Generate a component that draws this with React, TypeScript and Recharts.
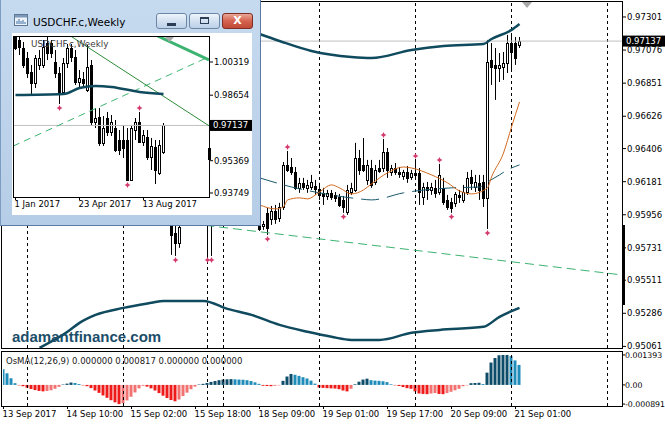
import React from "react";
import {
  ComposedChart,
  Bar,
  Line,
  Scatter,
  XAxis,
  YAxis,
  ReferenceLine,
  Cell,
} from "recharts";

const FONT = "'DejaVu Sans', Verdana, sans-serif";

// ---------- USDCHF.c H1 (main window) ----------
const priceTicks = [0.97301, 0.97076, 0.96851, 0.96626, 0.96406, 0.96181, 0.95956, 0.95731, 0.95511, 0.95286, 0.95061];
const lastPrice = 0.97137;
const timeLabels = ["13 Sep 2017", "14 Sep 10:00", "15 Sep 02:00", "15 Sep 18:00", "18 Sep 09:00", "19 Sep 01:00", "19 Sep 17:00", "20 Sep 09:00", "21 Sep 01:00"];
const timeLabelBars = [0, 16, 32, 48, 64, 80, 96, 112, 128];
const daySeparators = [6, 30, 51, 55, 79, 103, 127, 151];

// [bar, open, high, low, close]
const candles = [
  [42, 0.95955, 0.96023, 0.95683, 0.95819],
  [43, 0.95833, 0.95907, 0.95676, 0.95765],
  [44, 0.95765, 0.95975, 0.95731, 0.95873],
  [51, 0.95975, 0.96023, 0.95676, 0.95935],
  [52, 0.95935, 0.95989, 0.95676, 0.95989],
  [64, 0.95907, 0.95935, 0.95846, 0.95859],
  [65, 0.9588, 0.95914, 0.95853, 0.95894],
  [66, 0.95969, 0.96003, 0.95819, 0.95866],
  [67, 0.95928, 0.96016, 0.95887, 0.95982],
  [68, 0.95982, 0.96023, 0.95894, 0.95928],
  [69, 0.95935, 0.96037, 0.95907, 0.96009],
  [70, 0.96009, 0.96315, 0.95989, 0.96295],
  [71, 0.96295, 0.9639, 0.96247, 0.96261],
  [72, 0.96281, 0.96342, 0.96227, 0.96247],
  [73, 0.96247, 0.96281, 0.96125, 0.96139],
  [74, 0.96139, 0.96207, 0.96105, 0.96173],
  [75, 0.96173, 0.96207, 0.96125, 0.96145],
  [76, 0.96139, 0.96193, 0.96105, 0.96159],
  [77, 0.96145, 0.96227, 0.96125, 0.96179],
  [78, 0.96152, 0.96193, 0.96091, 0.96132],
  [79, 0.96132, 0.96173, 0.96057, 0.96091],
  [80, 0.96105, 0.96139, 0.96023, 0.96084],
  [81, 0.96084, 0.96125, 0.96057, 0.96105],
  [82, 0.96105, 0.96125, 0.96057, 0.96077],
  [83, 0.96091, 0.96111, 0.96043, 0.96071],
  [84, 0.96077, 0.96098, 0.96009, 0.96023],
  [85, 0.96057, 0.96084, 0.95969, 0.96009],
  [86, 0.95975, 0.96159, 0.95955, 0.96125],
  [87, 0.96111, 0.96173, 0.96091, 0.96139],
  [88, 0.96125, 0.96445, 0.96111, 0.96342],
  [89, 0.96342, 0.96397, 0.96227, 0.96261],
  [90, 0.96295, 0.96478, 0.96247, 0.96261],
  [91, 0.96193, 0.96329, 0.96159, 0.96295],
  [92, 0.96274, 0.96329, 0.96139, 0.96159],
  [93, 0.96179, 0.96295, 0.96159, 0.96261],
  [94, 0.96274, 0.96329, 0.96241, 0.96254],
  [95, 0.96274, 0.96472, 0.96247, 0.96383],
  [96, 0.96383, 0.9641, 0.96207, 0.96261],
  [97, 0.96247, 0.96295, 0.9622, 0.96274],
  [98, 0.96274, 0.96308, 0.96227, 0.96247],
  [99, 0.96247, 0.96281, 0.96207, 0.96234],
  [100, 0.9622, 0.96261, 0.96193, 0.96247],
  [101, 0.96247, 0.96288, 0.96173, 0.96207],
  [102, 0.96213, 0.96261, 0.96193, 0.96241],
  [103, 0.96241, 0.96329, 0.96213, 0.96227],
  [104, 0.96241, 0.96274, 0.96023, 0.96111],
  [105, 0.96077, 0.96173, 0.96023, 0.96145],
  [106, 0.96145, 0.96179, 0.96057, 0.96125],
  [107, 0.96125, 0.96173, 0.96091, 0.96145],
  [108, 0.96139, 0.96193, 0.96071, 0.96105],
  [109, 0.96111, 0.96302, 0.96091, 0.96227],
  [110, 0.96139, 0.96207, 0.96023, 0.96043],
  [111, 0.96057, 0.96091, 0.95989, 0.96009],
  [112, 0.96043, 0.96071, 0.95969, 0.96003],
  [113, 0.96037, 0.96111, 0.96009, 0.96098],
  [114, 0.96091, 0.96125, 0.96037, 0.96077],
  [115, 0.96057, 0.96159, 0.96037, 0.96111],
  [116, 0.96111, 0.96247, 0.96091, 0.96207],
  [117, 0.96213, 0.96261, 0.96125, 0.96173],
  [118, 0.96145, 0.96227, 0.96111, 0.96179],
  [119, 0.96173, 0.96227, 0.96057, 0.96125],
  [120, 0.96179, 0.96227, 0.96009, 0.96071],
  [121, 0.96071, 0.97145, 0.95859, 0.96995],
  [122, 0.97009, 0.97124, 0.96839, 0.96961],
  [123, 0.96975, 0.9709, 0.96737, 0.96954],
  [124, 0.96954, 0.97056, 0.96859, 0.96975],
  [125, 0.96961, 0.97063, 0.96873, 0.96988],
  [126, 0.96988, 0.97179, 0.9692, 0.97124],
  [127, 0.97124, 0.97192, 0.96941, 0.97063],
  [128, 0.97124, 0.97165, 0.96975, 0.97022],
  [129, 0.97111, 0.97165, 0.9709, 0.97137],
];

// [bar, value] readings of the indicator lines
const upperBand = [[64, 0.97185], [69, 0.97138], [77, 0.9707], [87, 0.97029], [92, 0.97022], [102, 0.97077], [110, 0.97104], [120, 0.97117], [122, 0.97151], [127, 0.97213], [129, 0.97253]];
const middleBand = [[64, 0.96207], [72, 0.96145], [79, 0.96105], [89, 0.96064], [92, 0.96057], [100, 0.96105], [112, 0.96139], [119, 0.96145], [121, 0.96179], [124, 0.96227], [126, 0.96261], [129, 0.96295]];
const lowerBand = [[9, 0.95051], [16, 0.9516], [19, 0.95221], [23, 0.95275], [30, 0.95323], [37, 0.95357], [40, 0.9537], [50, 0.9537], [56, 0.95316], [62, 0.95275], [69, 0.95207], [76, 0.9516], [82, 0.95126], [87, 0.95105], [94, 0.95105], [102, 0.95153], [109, 0.95173], [120, 0.95194], [124, 0.95262], [129, 0.95323]];
const maFast = [[64, 0.96023], [68, 0.95996], [70, 0.96009], [71, 0.96057], [74, 0.96071], [76, 0.96064], [79, 0.96111], [82, 0.96159], [84, 0.96139], [87, 0.96098], [90, 0.96125], [92, 0.96166], [96, 0.96241], [100, 0.96281], [102, 0.96274], [107, 0.96227], [111, 0.96173], [114, 0.96118], [117, 0.96098], [121, 0.96139], [122, 0.96213], [125, 0.96376], [127, 0.96553], [129, 0.96723]];
const trendLine = [[40, 0.95918], [154.6, 0.95547]];
const fractalUp = [71, 95, 103, 109];
const fractalDown = [43, 51, 52, 66, 85, 112, 121];

const osma = [
  0.00073, 0.00054, 0.00031, 0.00008, -0.00002, -0.00006, -0.00013, -0.00019, -0.00024, -0.00028,
  -0.0003, -0.00028, -0.00025, -0.00018, -0.00009, 0.00002, 0.00006, 0.00011, 0.00009, 0.00004,
  -0.00002, -0.00006, -0.00015, -0.00026, -0.00037, -0.00049, -0.0006, -0.00071, -0.00081, -0.000891,
  -0.00085, -0.00072, -0.00055, -0.00035, -0.00016, -0.00004, -0.00008, -0.00016, -0.00026, -0.00038,
  -0.0005, -0.00061, -0.0007, -0.00076, -0.00068, -0.00052, -0.00036, -0.0002, -0.00008, 0.00002,
  0.00005, 0.00009, 0.00014, 0.00018, 0.00022, 0.00025, 0.00026, 0.00027, 0.00026, 0.00025,
  0.00024, 0.00022, 0.00018, 0.00012, 0.00005, -0.00004, -0.00005, -0.00006, -0.00004, -0.00002,
  0.00019, 0.00039, 0.00051, 0.00047, 0.00042, 0.00036, 0.0003, 0.0002, 0.00006, -0.00012,
  -0.00014, -0.00015, -0.00016, -0.00017, -0.0002, -0.00026, -0.0003, -0.00018, 0.00003, 0.00015,
  0.00025, 0.00029, 0.00022, 0.0002, 0.00019, 0.00017, 0.00013, 0.00003, -0.00002, -0.00005,
  -0.0001, -0.00015, -0.00018, -0.0003, -0.0004, -0.00042, -0.00043, -0.0004, -0.00038, -0.00042,
  -0.00043, -0.00038, -0.00032, -0.00025, -0.00018, -0.00006, -0.00002, 0.00008, 0.00009, 0.0001,
  0.00004, 0.00057, 0.00104, 0.00125, 0.00138, 0.00139, 0.001393, 0.00134, 0.00114, 0.00093,
];
const osmaTicks = [0.001393, 0, -0.000891];

// ---------- USDCHF.c Weekly (inset window) ----------
const insetTicks = [1.00319, 0.98654, 0.95369, 0.93749];
const insetDates = ["1 Jan 2017", "23 Apr 2017", "13 Aug 2017"];
const insetDateBars = [0, 16, 32];
const insetCandles = [
  [0, 1.016, 1.0175, 1.00921, 1.01021],
  [1, 1.01422, 1.017, 1.0067, 1.01071],
  [2, 1.01021, 1.01322, 1.00018, 1.00169],
  [3, 1.0052, 1.00821, 0.99517, 0.99767],
  [4, 0.99817, 1.00169, 0.98664, 0.99266],
  [5, 0.99266, 1.0067, 0.99015, 1.0052],
  [6, 1.00169, 1.00921, 0.99918, 1.0052],
  [7, 1.00169, 1.01422, 1.00018, 1.01071],
  [8, 1.01272, 1.01573, 1.00419, 1.0077],
  [9, 1.01272, 1.01422, 1.0052, 1.0077],
  [10, 1.00319, 1.00921, 0.99517, 0.99767],
  [11, 0.99767, 1.00068, 0.98213, 0.98814],
  [12, 0.98814, 1.0052, 0.98664, 1.00269],
  [13, 1.00269, 1.01222, 1.00018, 1.01021],
  [14, 1.01021, 1.01222, 1.00319, 1.0057],
  [15, 1.0057, 1.00921, 0.99166, 0.99316],
  [16, 0.99316, 0.99918, 0.99015, 0.99517],
  [17, 0.99466, 0.99817, 0.99015, 0.99266],
  [18, 0.98915, 1.01172, 0.98814, 1.00068],
  [19, 1.00169, 1.00419, 0.9711, 0.9731],
  [20, 0.9731, 0.98012, 0.97009, 0.97511],
  [21, 0.97561, 0.98012, 0.96107, 0.96257],
  [22, 0.96257, 0.97611, 0.96107, 0.97009],
  [23, 0.97511, 0.97812, 0.96608, 0.96808],
  [24, 0.96808, 0.97661, 0.96608, 0.9731],
  [25, 0.97009, 0.9741, 0.95806, 0.95906],
  [26, 0.96407, 0.96909, 0.95655, 0.95906],
  [27, 0.96407, 0.9716, 0.95505, 0.96006],
  [28, 0.96407, 0.97009, 0.94351, 0.94401],
  [29, 0.94401, 0.9716, 0.94351, 0.97009],
  [30, 0.96909, 0.97511, 0.96407, 0.9731],
  [31, 0.9731, 0.97812, 0.96257, 0.96307],
  [32, 0.96307, 0.96909, 0.96107, 0.96658],
  [33, 0.96558, 0.96909, 0.95404, 0.95555],
  [34, 0.95555, 0.96508, 0.94903, 0.96107],
  [35, 0.96056, 0.96407, 0.94201, 0.94903],
  [36, 0.94752, 0.96407, 0.94652, 0.96157],
  [37, 0.95806, 0.9726, 0.95705, 0.97137],
];
const insetMA = [[0, 0.98664], [12, 0.98714], [16, 0.99015], [20, 0.99116], [24, 0.99066], [31, 0.98814], [37, 0.98714]];
const insetDashedTrend = [[-0.625, 0.96099], [48.375, 1.00582]];
const insetThinTrend = [[13.75, 1.01623], [48.375, 0.9712]];
const insetThickTrend = [[35.5, 1.01623], [48.375, 1.00429]];
const insetFractalUp = [31];
const insetFractalDown = [11, 28];

// ---------- helpers ----------
function makeRows(count: number, bars: number[][], series: Record<string, number[][]>) {
  const rows: any[] = Array.from({ length: count }, (_, i) => ({ i }));
  bars.forEach(([i, o, h, l, c]) => Object.assign(rows[i], { o, h, l, c }));
  Object.entries(series).forEach(([key, pts]) => pts.forEach(([i, v]) => (rows[i][key] = v)));
  return rows;
}

const mainRows = makeRows(osma.length, candles, { upper: upperBand, mid: middleBand, lower: lowerBand, ma: maFast });
mainRows.forEach((r, k) => (r.osma = osma[k]));
const insetRows = makeRows(insetCandles.length, insetCandles, { ma: insetMA });

const candleRange = (r: any) => (r.o == null ? null : [r.l, r.h]);
const upPoints = (rows: any[], idx: number[]) => idx.map((i) => ({ i, v: rows[i].h }));
const downPoints = (rows: any[], idx: number[]) => idx.map((i) => ({ i, v: rows[i].l }));

const OSMA_UP = "#0e4d6a";
const OSMA_UP_FADE = "#1e8dba";
const OSMA_DN = "#ee1b1b";
const OSMA_DN_FADE = "#f27171";
const osmaColor = (k: number) => {
  const v = osma[k];
  const rising = k > 0 && v > osma[k - 1];
  if (v >= 0) return rising ? OSMA_UP : OSMA_UP_FADE;
  return rising ? OSMA_DN_FADE : OSMA_DN;
};

const axisTick = { fontSize: 8.5, fontFamily: FONT, fill: "#000" };
const smallTick = { fontSize: 7.8, fontFamily: FONT, fill: "#000" };

function Candle(props: any) {
  const { x, y, width, height, payload } = props;
  if (!payload || payload.o == null || !Number.isFinite(y) || !Number.isFinite(height)) return null;
  const { o, h, l, c } = payload;
  const top = Math.min(y, y + height);
  const span = Math.abs(height);
  const k = h > l ? span / (h - l) : 0;
  const px = (v: number) => top + (h - v) * k;
  const cx = Math.floor(x + width / 2) + 0.5;
  const bTop = Math.round(px(Math.max(o, c))) + 0.5;
  const bBot = Math.max(Math.round(px(Math.min(o, c))) + 0.5, bTop + 1);
  return (
    <g>
      <line x1={cx} x2={cx} y1={top} y2={top + span} stroke="#000" strokeWidth={1} />
      <rect x={cx - 1} y={bTop} width={2} height={bBot - bTop} fill={c >= o ? "#fff" : "#000"} stroke="#000" strokeWidth={1} />
    </g>
  );
}

function Fractal(props: any) {
  const { cx, cy, dir } = props;
  if (!Number.isFinite(cx) || !Number.isFinite(cy)) return null;
  const x = Math.floor(cx) + 0.5;
  const y = cy + dir * 4;
  return (
    <path
      d={`M${x} ${y - 3}L${x + 1} ${y - 1}L${x + 3} ${y}L${x + 1} ${y + 1}L${x} ${y + 3}L${x - 1} ${y + 1}L${x - 3} ${y}L${x - 1} ${y - 1}Z`}
      fill="#d2386a"
    />
  );
}

function PriceTag(props: any) {
  const { viewBox, text } = props;
  if (!viewBox) return null;
  const x = viewBox.x + viewBox.width + 1;
  const y = viewBox.y;
  return (
    <g>
      <rect x={x} y={y - 5.5} width={42} height={11} fill="#000" />
      <text x={x + 3} y={y} dy="0.35em" fontSize={8.5} fontFamily={FONT} fill="#fff">
        {text}
      </text>
    </g>
  );
}

function LabelTick(props: any) {
  const { x, y, payload, bars, labels } = props;
  const k = bars.indexOf(payload.value);
  return (
    <text x={x - 1} y={y} dy="0.71em" textAnchor="start" fontSize={8.5} fontFamily={FONT} fill="#000">
      {k >= 0 ? labels[k] : ""}
    </text>
  );
}

const seg = (pts: number[][]) => [
  { x: pts[0][0], y: pts[0][1] },
  { x: pts[1][0], y: pts[1][1] },
];

function MainChart() {
  return (
    <ComposedChart width={665} height={353} data={mainRows} margin={{ top: 3, right: 0, bottom: 5, left: 3 }}>
      <XAxis type="number" dataKey="i" domain={[-0.125, 154.625]} hide allowDataOverflow />
      <YAxis
        orientation="right"
        width={43}
        domain={[0.9505, 0.97396]}
        ticks={priceTicks}
        interval={0}
        allowDataOverflow
        axisLine={false}
        tickLine={{ stroke: "#000" }}
        tickSize={4}
        tickMargin={1}
        tick={axisTick}
        tickFormatter={(v: number) => v.toFixed(5)}
      />
      {daySeparators.map((s) => (
        <ReferenceLine key={s} x={s} stroke="#000" strokeDasharray="3 3" />
      ))}
      <ReferenceLine segment={seg(trendLine)} stroke="#3cb371" strokeDasharray="9 5" ifOverflow="hidden" />
      <ReferenceLine y={lastPrice} stroke="#c0c0c0" label={<PriceTag text={lastPrice.toFixed(5)} />} />
      <Line dataKey="upper" type="monotone" stroke="#0f4a5e" strokeWidth={2.5} dot={false} connectNulls isAnimationActive={false} />
      <Line dataKey="lower" type="monotone" stroke="#0f4a5e" strokeWidth={2.5} dot={false} connectNulls isAnimationActive={false} />
      <Line dataKey="mid" type="monotone" stroke="#1a5a6e" strokeWidth={1} strokeDasharray="18 8" dot={false} connectNulls isAnimationActive={false} />
      <Line dataKey="ma" type="monotone" stroke="#d2691e" strokeWidth={1} dot={false} connectNulls isAnimationActive={false} />
      <Bar dataKey={candleRange} barSize={3} shape={(p: any) => <Candle {...p} />} isAnimationActive={false} />
      <Scatter data={upPoints(mainRows, fractalUp)} dataKey="v" shape={(p: any) => <Fractal {...p} dir={-1} />} isAnimationActive={false} />
      <Scatter data={downPoints(mainRows, fractalDown)} dataKey="v" shape={(p: any) => <Fractal {...p} dir={1} />} isAnimationActive={false} />
    </ComposedChart>
  );
}

function OsmaChart() {
  return (
    <ComposedChart width={665} height={81} data={mainRows} margin={{ top: 8, right: 0, bottom: 0, left: 3 }}>
      <XAxis
        type="number"
        dataKey="i"
        domain={[-0.125, 154.625]}
        ticks={timeLabelBars}
        interval={0}
        height={19}
        axisLine={false}
        tickSize={3}
        tickMargin={2}
        tickLine={{ stroke: "#000" }}
        tick={(p: any) => <LabelTick {...p} bars={timeLabelBars} labels={timeLabels} />}
        allowDataOverflow
      />
      <YAxis
        orientation="right"
        width={43}
        domain={[-0.00098, 0.00153]}
        ticks={osmaTicks}
        interval={0}
        allowDataOverflow
        axisLine={false}
        tickLine={{ stroke: "#000" }}
        tickSize={3}
        tickMargin={0}
        tick={smallTick}
        tickFormatter={(v: number) => (v === 0 ? "0.00" : v.toFixed(6))}
      />
      {daySeparators.map((s) => (
        <ReferenceLine key={s} x={s} stroke="#000" strokeDasharray="3 3" />
      ))}
      <Bar dataKey="osma" barSize={3} isAnimationActive={false}>
        {mainRows.map((_, k) => (
          <Cell key={k} fill={osmaColor(k)} />
        ))}
      </Bar>
    </ComposedChart>
  );
}

function InsetChart() {
  return (
    <ComposedChart width={240} height={182} data={insetRows} margin={{ top: 3, right: 0, bottom: 0, left: 1 }}>
      <XAxis
        type="number"
        dataKey="i"
        domain={[-0.625, 48.375]}
        ticks={insetDateBars}
        interval={0}
        height={18}
        axisLine={false}
        tickSize={3}
        tickMargin={1}
        tickLine={{ stroke: "#000" }}
        tick={(p: any) => <LabelTick {...p} bars={insetDateBars} labels={insetDates} />}
        allowDataOverflow
      />
      <YAxis
        orientation="right"
        width={43}
        domain={[0.93548, 1.01623]}
        ticks={insetTicks}
        interval={0}
        allowDataOverflow
        axisLine={false}
        tickLine={{ stroke: "#000" }}
        tickSize={4}
        tickMargin={1}
        tick={axisTick}
        tickFormatter={(v: number) => v.toFixed(5)}
      />
      <ReferenceLine y={lastPrice} stroke="#c0c0c0" label={<PriceTag text={lastPrice.toFixed(5)} />} />
      <ReferenceLine segment={seg(insetDashedTrend)} stroke="#3cb371" strokeDasharray="7 5" ifOverflow="hidden" />
      <ReferenceLine segment={seg(insetThinTrend)} stroke="#2e8b3a" ifOverflow="hidden" />
      <ReferenceLine segment={seg(insetThickTrend)} stroke="#3cb371" strokeWidth={3} ifOverflow="hidden" />
      <Line dataKey="ma" type="monotone" stroke="#0f4a5e" strokeWidth={2.5} dot={false} connectNulls isAnimationActive={false} />
      <Bar dataKey={candleRange} barSize={3} shape={(p: any) => <Candle {...p} />} isAnimationActive={false} />
      <Scatter data={upPoints(insetRows, insetFractalUp)} dataKey="v" shape={(p: any) => <Fractal {...p} dir={-1} />} isAnimationActive={false} />
      <Scatter data={downPoints(insetRows, insetFractalDown)} dataKey="v" shape={(p: any) => <Fractal {...p} dir={1} />} isAnimationActive={false} />
    </ComposedChart>
  );
}

const abs = (left: number, top: number, extra: React.CSSProperties = {}): React.CSSProperties => ({
  position: "absolute",
  left,
  top,
  ...extra,
});

const winBtn = (left: number, bg: string, border: string): React.CSSProperties =>
  abs(left, 13, {
    width: 31,
    height: 16,
    boxSizing: "border-box",
    borderRadius: 3,
    border: `1px solid ${border}`,
    background: bg,
  });

export default function App() {
  return (
    <div style={{ position: "relative", width: 665, height: 425, background: "#fff", overflow: "hidden", fontFamily: FONT }}>
      <style>{"body{margin:0}"}</style>

      <div style={abs(0, 0)}>
        <MainChart />
      </div>
      <div style={abs(1, 1, { width: 622, height: 348, boxSizing: "border-box", border: "1px solid #000", pointerEvents: "none" })} />
      <div style={abs(0, 344)}>
        <OsmaChart />
      </div>
      <div style={abs(1, 351, { width: 622, height: 56, boxSizing: "border-box", border: "1px solid #000", pointerEvents: "none" })} />

      <div style={abs(6, 355, { fontSize: 8.5, lineHeight: "12px", color: "#202020", whiteSpace: "nowrap" })}>
        OsMA(12,26,9) 0.000000 0.000817 0.000000 0.000000
      </div>
      <div
        style={abs(12, 328, {
          fontFamily: "'Liberation Sans', Arial, sans-serif",
          fontWeight: 700,
          fontSize: 15,
          lineHeight: "18px",
          color: "#1b4e69",
          whiteSpace: "nowrap",
        })}
      >
        adamantfinance.com
      </div>

      <svg style={abs(522, 2)} width={11} height={7}>
        <polygon points="0,0 10,0 5,6" fill="#a8a8a8" />
      </svg>
      <div style={abs(622, 225, { width: 3, height: 80, background: "#000" })} />

      {/* inset weekly window */}
      <div
        style={abs(0, 0, {
          width: 261,
          height: 226,
          boxSizing: "border-box",
          background: "linear-gradient(#c6daef, #b6cde7)",
          borderLeft: "1px solid #7d9cc2",
          borderRight: "1px solid #5b7aa3",
          borderBottom: "1px solid #5b7aa3",
        })}
      >
        <svg style={abs(13, 13)} width={15} height={15}>
          <rect x={0.5} y={1.5} width={13} height={11} fill="#eef3f9" stroke="#5d7895" />
          <rect x={1} y={2} width={12} height={2.5} fill="#7d98b8" />
          <path d="M3 11 L3 8 M5 11 L5 6 M7 11 L7 8 M9 11 L9 7 M11 11 L11 9" stroke="#3b6ea5" fill="none" />
        </svg>
        <div style={abs(32, 14, { fontSize: 10.5, lineHeight: "16px", color: "#000", whiteSpace: "nowrap" })}>
          USDCHF.c,Weekly
        </div>
        <div style={winBtn(155, "linear-gradient(#eef4fb, #d3e1f1 50%, #bcd0e8)", "#6d86a6")}>
          <div style={abs(10, 9, { width: 9, height: 3, background: "#2c3e55" })} />
        </div>
        <div style={winBtn(188, "linear-gradient(#eef4fb, #d3e1f1 50%, #bcd0e8)", "#6d86a6")}>
          <div style={abs(10, 3, { width: 9, height: 7, boxSizing: "border-box", border: "1px solid #2c3e55", borderTopWidth: 2 })} />
        </div>
        <div style={winBtn(221, "linear-gradient(#eba797, #d4634f 50%, #c04a36)", "#7d2f24")}>
          <div style={abs(0, 0, { width: 29, lineHeight: "14px", textAlign: "center", color: "#fff", fontWeight: 700, fontSize: 11 })}>X</div>
        </div>

        <div style={abs(11, 33, { width: 240, height: 182, background: "#fff" })} />
        <div style={abs(11, 33)}>
          <InsetChart />
        </div>
        <div style={abs(12, 36, { width: 197, height: 162, boxSizing: "border-box", border: "1px solid #000", pointerEvents: "none" })} />
        <div style={abs(30, 38, { fontSize: 8.8, lineHeight: "12px", color: "#404040", whiteSpace: "nowrap" })}>
          USDCHF.c,Weekly
        </div>
        <svg style={abs(164, 37)} width={10} height={6}>
          <polygon points="0,0 9,0 4.5,5" fill="#a8a8a8" />
        </svg>
        <div style={abs(207, 148, { width: 3, height: 12, background: "#000" })} />
      </div>
    </div>
  );
}
